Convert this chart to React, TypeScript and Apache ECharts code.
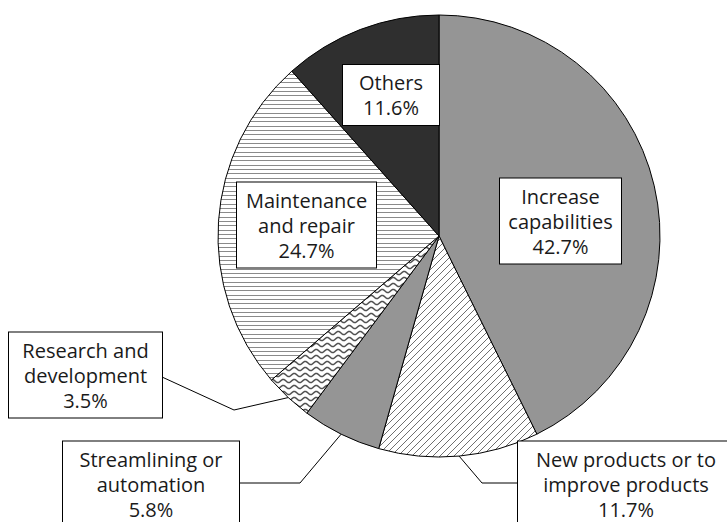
import React, { useEffect, useRef } from 'react';
import * as echarts from 'echarts';

// ---- data ----
const categories = [
  'Increase\ncapabilities',
  'New products or to\nimprove products',
  'Streamlining or\nautomation',
  'Research and\ndevelopment',
  'Maintenance\nand repair',
  'Others',
];
const shares = [42.7, 11.7, 5.8, 3.5, 24.7, 11.6];

// ---- layout of the label boxes (positions, not data) ----
type Box = { cx: number; cy: number; w: number; elbow: number[] | null; side: number; edgeY: number };
const labelBoxes: Box[] = [
  { cx: 560.5, cy: 221, w: 121, elbow: null, side: 0, edgeY: 0 },
  { cx: 626, cy: 484, w: 216, elbow: [482, 483], side: -1, edgeY: 483 },
  { cx: 151, cy: 484, w: 176, elbow: [300, 483], side: 1, edgeY: 483 },
  { cx: 85.5, cy: 375, w: 153, elbow: [234, 410], side: 1, edgeY: 377 },
  { cx: 306.5, cy: 225, w: 139, elbow: null, side: 0, edgeY: 0 },
  { cx: 391, cy: 95, w: 96, elbow: null, side: 0, edgeY: 0 },
];

function makePattern(w: number, h: number, draw: (ctx: CanvasRenderingContext2D) => void) {
  const c = document.createElement('canvas');
  c.width = w;
  c.height = h;
  const ctx = c.getContext('2d') as CanvasRenderingContext2D;
  ctx.fillStyle = '#ffffff';
  ctx.fillRect(0, 0, w, h);
  draw(ctx);
  return { image: c, repeat: 'repeat', imageWidth: w, imageHeight: h } as any;
}

function buildFills() {
  const horizontal = makePattern(4, 13, (ctx) => {
    ctx.fillStyle = '#8a8a8a';
    [0, 4, 9].forEach((y) => ctx.fillRect(0, y, 4, 1));
  });
  const diagonal = makePattern(7, 7, (ctx) => {
    ctx.strokeStyle = '#6f6f6f';
    ctx.lineWidth = 1;
    ctx.beginPath();
    ctx.moveTo(-1, 8);
    ctx.lineTo(8, -1);
    ctx.moveTo(-2, 2);
    ctx.lineTo(2, -2);
    ctx.moveTo(5, 9);
    ctx.lineTo(9, 5);
    ctx.stroke();
  });
  const wavy = makePattern(11, 6, (ctx) => {
    ctx.strokeStyle = '#505050';
    ctx.lineWidth = 1.5;
    ctx.beginPath();
    for (let x = -1; x <= 12; x += 0.5) {
      const y = 3 + 1.6 * Math.sin((2 * Math.PI * x) / 11);
      if (x === -1) ctx.moveTo(x, y);
      else ctx.lineTo(x, y);
    }
    ctx.stroke();
  });
  return ['#959595', diagonal, '#959595', wavy, horizontal, '#2f2f2f'];
}

export default function App() {
  const ref = useRef<HTMLDivElement>(null);
  useEffect(() => {
    if (!ref.current) return;
    const chart = echarts.init(ref.current, null, { renderer: 'svg' });
    const fills = buildFills();
    chart.setOption({
      animation: false,
      backgroundColor: '#ffffff',
      series: [
        {
          type: 'pie',
          center: [439, 236],
          radius: 221,
          startAngle: 90,
          clockwise: true,
          avoidLabelOverlap: false,
          emphasis: { disabled: true },
          itemStyle: { borderColor: '#000000', borderWidth: 1 },
          label: {
            show: true,
            position: 'outside',
            formatter: (p: any) => `${p.name}\n${Number(p.value).toFixed(1)}%`,
            fontFamily: '"Open Sans", "Noto Sans", sans-serif',
            fontSize: 20,
            lineHeight: 25,
            color: '#1a1a1a',
            backgroundColor: '#ffffff',
            borderColor: '#000000',
            borderWidth: 1,
            padding: [5, 0],
            align: 'center',
          },
          labelLine: { show: true, smooth: false, lineStyle: { color: '#000000', width: 1 } },
          labelLayout: (params: any) => {
            const b = labelBoxes[params.dataIndex];
            const res: any = { x: b.cx, y: b.cy, align: 'center', verticalAlign: 'middle' };
            if (b.elbow && params.labelLinePoints) {
              const a = params.labelLinePoints[0];
              const edgeX = b.cx + (b.side * b.w) / 2;
              res.labelLinePoints = [a, b.elbow, [edgeX, b.edgeY]];
            }
            return res;
          },
          data: categories.map((name, i) => ({
            name,
            value: shares[i],
            itemStyle: { color: fills[i] },
            label: { width: labelBoxes[i].w },
            labelLine: { show: labelBoxes[i].elbow != null },
          })),
        },
      ],
    });
    return () => chart.dispose();
  }, []);
  return (
    <div
      ref={ref}
      style={{ position: 'absolute', left: 0, top: 0, width: 727, height: 522, background: '#fff' }}
    />
  );
}
